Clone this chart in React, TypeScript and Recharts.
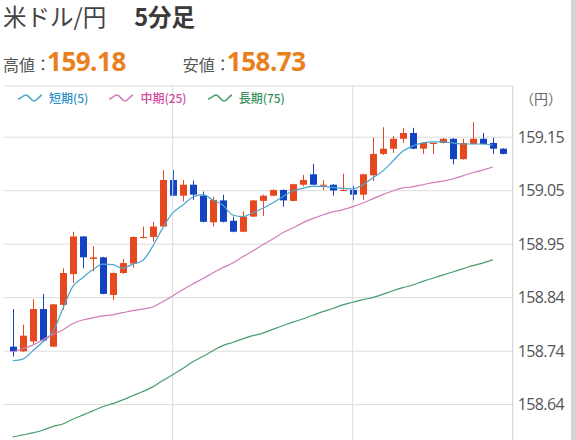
import { ComposedChart, Bar, Line, XAxis, YAxis, CartesianGrid, ReferenceLine } from "recharts"

// 5分足 50本（左から順）
const slots = [
  0, 1, 2, 3, 4, 5, 6, 7, 8, 9, 10, 11, 12, 13, 14, 15, 16, 17, 18, 19, 20, 21, 22, 23, 24,
  25, 26, 27, 28, 29, 30, 31, 32, 33, 34, 35, 36, 37, 38, 39, 40, 41, 42, 43, 44, 45, 46, 47, 48, 49,
]

const opens = [
  158.751, 158.742, 158.761, 158.823, 158.751, 158.831, 158.89, 158.962, 158.919, 158.922,
  158.85, 158.892, 158.91, 158.959, 158.961, 158.981, 159.07, 159.04, 159.061, 159.04,
  158.989, 159.031, 158.992, 158.971, 159.0, 159.03, 159.04, 159.051, 159.03, 159.061,
  159.081, 159.059, 159.061, 159.05, 159.051, 159.042, 159.079, 159.12, 159.13, 159.149,
  159.16, 159.13, 159.139, 159.141, 159.149, 159.11, 159.139, 159.149, 159.141, 159.13,
]
const highs = [
  158.823, 158.793, 158.842, 158.852, 158.833, 158.901, 158.971, 158.962, 158.943, 158.923,
  158.893, 158.919, 158.962, 158.981, 158.99, 159.089, 159.089, 159.07, 159.069, 159.048,
  159.038, 159.042, 159.0, 159.01, 159.032, 159.042, 159.052, 159.052, 159.063, 159.08,
  159.101, 159.07, 159.062, 159.082, 159.059, 159.082, 159.151, 159.171, 159.154, 159.17,
  159.17, 159.142, 159.142, 159.15, 159.15, 159.149, 159.181, 159.16, 159.151, 159.131,
]
const lows = [
  158.732, 158.741, 158.756, 158.76, 158.75, 158.822, 158.873, 158.901, 158.895, 158.851,
  158.84, 158.89, 158.902, 158.958, 158.952, 158.98, 159.039, 159.029, 159.032, 158.989,
  158.981, 158.989, 158.97, 158.97, 158.999, 159.001, 159.039, 159.019, 159.029, 159.058,
  159.06, 159.051, 159.04, 159.049, 159.031, 159.032, 159.068, 159.118, 159.122, 159.141,
  159.129, 159.12, 159.12, 159.14, 159.1, 159.109, 159.138, 159.138, 159.12, 159.119,
]
const closes = [
  158.742, 158.772, 158.823, 158.763, 158.832, 158.892, 158.962, 158.922, 158.922, 158.852,
  158.892, 158.911, 158.961, 158.961, 158.981, 159.07, 159.04, 159.061, 159.042, 158.99,
  159.032, 158.99, 158.971, 159.0, 159.031, 159.04, 159.051, 159.031, 159.062, 159.07,
  159.061, 159.061, 159.05, 159.051, 159.042, 159.081, 159.12, 159.13, 159.149, 159.16,
  159.13, 159.141, 159.141, 159.149, 159.11, 159.141, 159.149, 159.139, 159.13, 159.12,
]

const ma5 = [
  158.724, 158.727, 158.743, 158.76, 158.779, 158.823, 158.866, 158.883, 158.898, 158.909,
  158.908, 158.901, 158.909, 158.916, 158.943, 158.978, 159.007, 159.022, 159.037, 159.042,
  159.032, 159.022, 159.003, 159.0, 159.007, 159.016, 159.026, 159.038, 159.049, 159.054,
  159.058, 159.058, 159.056, 159.054, 159.053, 159.061, 159.074, 159.087, 159.106, 159.125,
  159.135, 159.141, 159.143, 159.143, 159.141, 159.139, 159.139, 159.139, 159.137, null,
]
const ma25 = [
  158.741, 158.747, 158.754, 158.764, 158.774, 158.783, 158.795, 158.802, 158.806, 158.81,
  158.812, 158.816, 158.82, 158.823, 158.827, 158.837, 158.848, 158.86, 158.871, 158.881,
  158.892, 158.902, 158.911, 158.923, 158.934, 158.946, 158.957, 158.969, 158.978, 158.988,
  158.996, 159.003, 159.009, 159.013, 159.019, 159.026, 159.034, 159.042, 159.049, 159.055,
  159.057, 159.061, 159.065, 159.068, 159.072, 159.078, 159.084, 159.089, 159.095, null,
]
const ma75 = [
  158.578, 158.582, 158.586, 158.591, 158.598, 158.603, 158.612, 158.62, 158.628, 158.636,
  158.642, 158.649, 158.657, 158.665, 158.674, 158.686, 158.697, 158.709, 158.722, 158.732,
  158.743, 158.753, 158.759, 158.766, 158.772, 158.777, 158.784, 158.791, 158.798, 158.804,
  158.811, 158.818, 158.824, 158.831, 158.836, 158.841, 158.845, 158.851, 158.858, 158.864,
  158.869, 158.876, 158.882, 158.888, 158.894, 158.9, 158.906, 158.911, 158.917, null,
]

const tickValues = [158.64, 158.7424, 158.8448, 158.9472, 159.0496, 159.152]
const tickLabels = ["158.64", "158.74", "158.84", "158.95", "159.05", "159.15"]
const hourLines = [16, 34]

const seriesNames = ["短期(5)", "中期(25)", "長期(75)"]
const seriesKeys = ["ma5", "ma25", "ma75"]
const lineColors = ["#4aa5cc", "#d27cba", "#4b9c6d"]
const legendColors = ["#2d8fc8", "#d04c9f", "#3a8f5d"]

const UP = "#e6481f"
const DOWN = "#1342c3"

const data = slots.map((s, i) => ({
  slot: s,
  open: opens[i],
  high: highs[i],
  low: lows[i],
  close: closes[i],
  ma5: ma5[i],
  ma25: ma25[i],
  ma75: ma75[i],
}))

const JP = '"Noto Sans CJK JP", "Noto Sans", sans-serif'
const NUM = '"Open Sans", "Noto Sans", sans-serif'

function Candle(props: any) {
  const { x, y, width, height, payload } = props
  if (!payload || height == null) return null
  const { open, close, high, low } = payload
  const top = Math.min(y, y + height)
  const h = Math.abs(height)
  const k = h / (high - low)
  const color = close >= open ? UP : DOWN
  const bodyTop = top + (high - Math.max(open, close)) * k
  const bodyH = Math.max(1, Math.abs(open - close) * k)
  const cx = Math.round(x + width / 2) + 0.5
  return (
    <g>
      <line x1={cx} x2={cx} y1={top} y2={top + h} stroke={color} strokeWidth={1} />
      <rect x={cx - 3.5} y={bodyTop} width={7} height={bodyH} fill={color} />
    </g>
  )
}

function Wave({ color }: { color: string }) {
  return (
    <svg width={26} height={10} style={{ marginRight: 6 }}>
      <path d="M1,6 C4,6 6,2 9,2 C12,2 14,8 17,8 C20,8 22,3 25,2" fill="none" stroke={color} strokeWidth={1.6} />
    </svg>
  )
}

export default function App() {
  return (
    <div
      style={{
        position: "absolute",
        left: 0,
        top: 0,
        width: 576,
        height: 440,
        overflow: "hidden",
        background: "#fff",
        fontFamily: JP,
      }}
    >
      <ComposedChart
        width={576}
        height={460}
        data={data}
        margin={{ top: 86, right: 0, bottom: 0, left: 3.5 }}
      >
        <CartesianGrid vertical={false} stroke="#dcdcdc" />
        {hourLines.map((h) => (
          <ReferenceLine key={h} x={h} stroke="#dcdcdc" />
        ))}
        <XAxis
          dataKey="slot"
          type="category"
          orientation="top"
          height={0}
          tick={false}
          tickLine={false}
          axisLine={{ stroke: "#cfcfcf" }}
          padding={{ left: 4.2, right: 5 }}
        />
        <YAxis
          yAxisId="frame"
          orientation="left"
          width={0}
          domain={[0, 1]}
          tick={false}
          tickLine={false}
          axisLine={{ stroke: "#cfcfcf" }}
        />
        <YAxis
          orientation="right"
          width={63.3}
          domain={[158.534, 159.25]}
          ticks={tickValues}
          tickFormatter={(v: number) => tickLabels[tickValues.indexOf(v)] ?? ""}
          tickLine={false}
          tickSize={0}
          tickMargin={5}
          axisLine={{ stroke: "#cfcfcf" }}
          tick={{ fill: "#555", fontSize: 16, fontFamily: NUM, letterSpacing: -0.6 }}
        />
        <Bar
          dataKey={(d: any) => [d.low, d.high]}
          shape={Candle}
          barSize={7}
          isAnimationActive={false}
        />
        {seriesKeys.map((k, i) => (
          <Line
            key={k}
            dataKey={k}
            type="monotone"
            stroke={lineColors[i]}
            strokeWidth={1.2}
            dot={false}
            activeDot={false}
            isAnimationActive={false}
          />
        ))}
      </ComposedChart>

      <div style={{ position: "absolute", left: 3, top: 3, fontSize: 23.5, lineHeight: "27px", color: "#444" }}>
        米ドル/円<span style={{ marginLeft: 28, fontWeight: 700, color: "#3a3a3a" }}>5分足</span>
      </div>

      <div style={{ position: "absolute", left: 3, top: 48, display: "flex", alignItems: "baseline", lineHeight: "26px" }}>
        <span style={{ fontSize: 16, color: "#555" }}>高値：</span>
        <span style={{ fontFamily: NUM, fontSize: 26, fontWeight: 700, color: "#e8801e", letterSpacing: -0.5, marginLeft: -4 }}>
          159.18
        </span>
        <span style={{ fontSize: 16, color: "#555", marginLeft: 57 }}>安値：</span>
        <span style={{ fontFamily: NUM, fontSize: 26, fontWeight: 700, color: "#e8801e", letterSpacing: -0.5, marginLeft: -4 }}>
          158.73
        </span>
      </div>

      <div style={{ position: "absolute", left: 17, top: 90, display: "flex", alignItems: "center", fontSize: 12, lineHeight: "16px", fontWeight: 500 }}>
        {seriesNames.map((n, i) => (
          <span key={n} style={{ display: "flex", alignItems: "center", color: legendColors[i], marginRight: 20 }}>
            <Wave color={lineColors[i]} />
            {n}
          </span>
        ))}
      </div>

      <div style={{ position: "absolute", left: 520, top: 89, fontSize: 14, lineHeight: "18px", color: "#666" }}>
        （円）
      </div>

      <div style={{ position: "absolute", left: 571, top: 0, width: 5, height: 440, background: "#d4d4d4" }} />
    </div>
  )
}
